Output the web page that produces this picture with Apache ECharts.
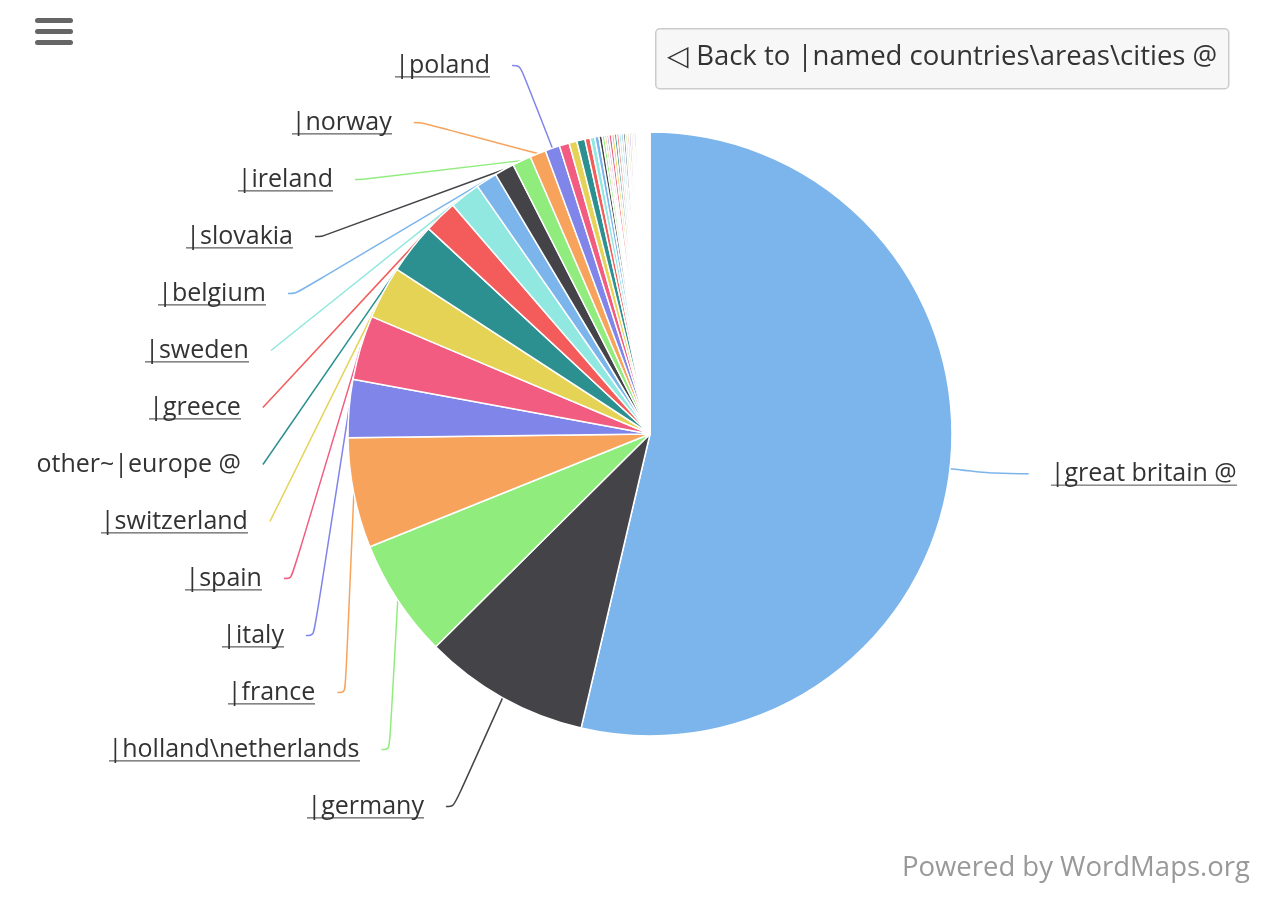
<!DOCTYPE html>
<html>
<head>
<meta charset="utf-8">
<script src="https://cdn.jsdelivr.net/npm/echarts@6/dist/echarts.min.js"></script>
<style>
html,body{margin:0;padding:0;background:#fff;}
#chart{width:1284px;height:900px;}
</style>
</head>
<body>
<div id="chart"></div>
<script>
// ---- data ----
const categories = [
  '|great britain @', '|germany', '|holland\\netherlands', '|france', '|italy', '|spain',
  '|switzerland', 'other~|europe @', '|greece', '|sweden', '|belgium', '|slovakia',
  '|ireland', '|norway', '|poland',
  '|portugal', '|denmark', '|austria', '|czech republic', '|finland', '|hungary', '|romania',
  '|croatia', '|iceland', '|luxembourg', '|malta', '|cyprus', '|bulgaria', '|serbia',
  '|slovenia', '|estonia', '|latvia', '|lithuania', '|ukraine', '|russia', '|turkey',
  '|albania', '|montenegro', '|bosnia', '|macedonia', '|monaco', '|andorra', '|belarus',
  '|moldova', '|liechtenstein', '|gibraltar', '|san marino', '|kosovo', '|vatican'
];
const values = [
  53.7, 8.9, 6.36, 5.9, 3.1, 3.45,
  2.83, 2.72, 1.78, 1.64, 1.14, 1.06,
  1.0, 0.86, 0.78,
  0.53, 0.42, 0.44, 0.28, 0.25, 0.22, 0.17,
  0.14, 0.11, 0.11, 0.15, 0.14, 0.13, 0.12,
  0.12, 0.11, 0.11, 0.10, 0.10, 0.10, 0.09,
  0.09, 0.09, 0.08, 0.08, 0.08, 0.07, 0.07,
  0.07, 0.06, 0.06, 0.06, 0.05, 0.05
];
const labelledCount = 15;
const palette = ['#7cb5ec', '#434348', '#90ed7d', '#f7a35c', '#8085e9',
                 '#f15c80', '#e4d354', '#2b908f', '#f45b5b', '#91e8e1'];
const backText = '\u25C1 Back to |named countries\\areas\\cities @';
const creditText = 'Powered by WordMaps.org';

// underline image for drilldown labels
const ul = document.createElement('canvas');
ul.width = 2; ul.height = 28;
const uctx = ul.getContext('2d');
uctx.fillStyle = '#6a6a6a';
uctx.fillRect(0, 26, 2, 1.5);

const FONT = '"Open Sans", "Noto Sans", sans-serif';

const data = categories.map((name, i) => {
  const item = { name: name, value: values[i] };
  if (i >= labelledCount) {
    item.label = { show: false };
    item.labelLine = { show: false };
  } else if (i === 0) {
    item.labelLine = { length: 45, length2: 34 };
  } else if (name.indexOf('other') === 0) {
    item.label = { formatter: '{s|}\n{p|{b}}\n{s|}' };
  }
  return item;
});

const chart = echarts.init(document.getElementById('chart'), null, { renderer: 'canvas' });
chart.setOption({
  animation: false,
  color: palette,
  series: [{
    type: 'pie',
    left: 0, top: 37, right: 0, bottom: 62,
    center: [650, 397],
    radius: 302,
    startAngle: 90,
    clockwise: true,
    avoidLabelOverlap: true,
    itemStyle: { borderColor: '#ffffff', borderWidth: 1.5 },
    label: {
      show: true,
      formatter: '{s|}\n{u|{b}}\n{s|}',
      color: '#333333',
      fontFamily: FONT,
      fontSize: 25,
      distanceToLabelLine: 22,
      rich: {
        s: { fontSize: 10, lineHeight: 17 },
        u: {
          fontFamily: FONT, fontSize: 25, color: '#333333', lineHeight: 28,
          backgroundColor: { image: ul }
        },
        p: { fontFamily: FONT, fontSize: 25, color: '#333333', lineHeight: 28 }
      }
    },
    labelLine: {
      show: true,
      length: 100,
      length2: 8,
      smooth: 0.4,
      lineStyle: { width: 1.5 }
    },
    emphasis: { disabled: true },
    data: data
  }],
  graphic: [
    { type: 'rect', left: 35, top: 18, shape: { width: 38, height: 5, r: 2.5 }, style: { fill: '#666666' } },
    { type: 'rect', left: 35, top: 29, shape: { width: 38, height: 5, r: 2.5 }, style: { fill: '#666666' } },
    { type: 'rect', left: 35, top: 40, shape: { width: 38, height: 5, r: 2.5 }, style: { fill: '#666666' } },
    { type: 'rect', left: 655, top: 28, shape: { width: 573, height: 60, r: 4 },
      style: { fill: '#f7f7f7', stroke: '#cccccc', lineWidth: 1.5 } },
    { type: 'text', x: 667, y: 57,
      style: { text: backText, fill: '#333333', font: '27.5px ' + FONT, verticalAlign: 'middle', align: 'left' } },
    { type: 'text', x: 1250, y: 868,
      style: { text: creditText, fill: '#999999', font: '27.5px ' + FONT, verticalAlign: 'middle', align: 'right' } }
  ]
});
</script>
</body>
</html>
